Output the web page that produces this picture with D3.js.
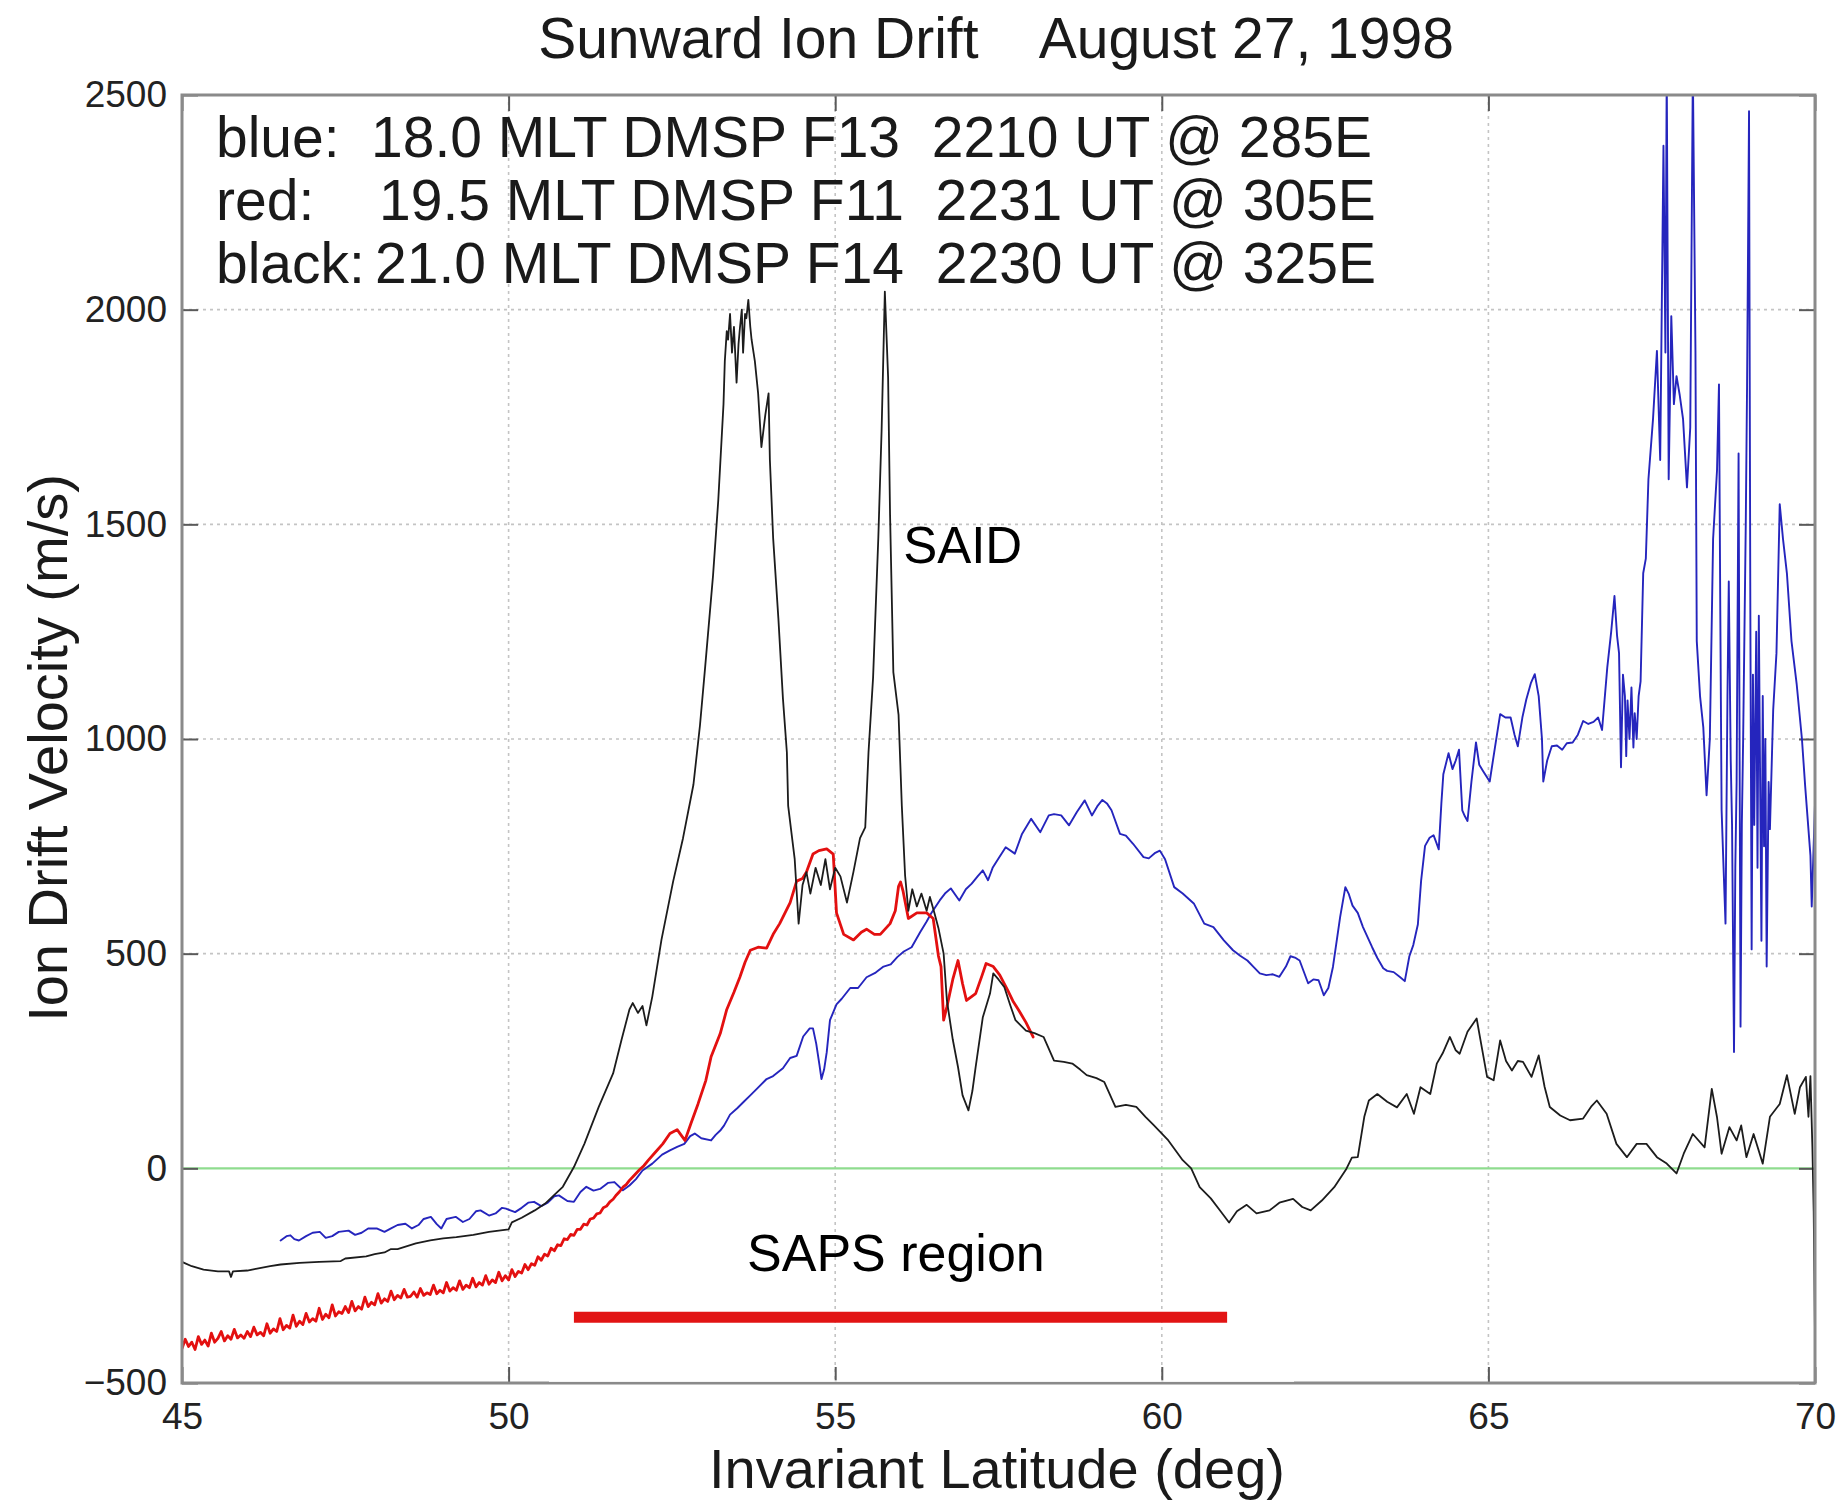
<!DOCTYPE html>
<html>
<head>
<meta charset="utf-8">
<script src="https://cdn.jsdelivr.net/npm/d3@7"></script>
<style>
  html, body { margin: 0; padding: 0; background: #fff; }
  svg { display: block; font-family: "Liberation Sans", Arial, Helvetica, sans-serif; }
</style>
</head>
<body>
<svg id="chart" width="1842" height="1503"></svg>
<script>
// ---- axis ticks and labels ----
const xTicks = [45, 50, 55, 60, 65, 70];
const yTicks = [-500, 0, 500, 1000, 1500, 2000, 2500];
const titleText = "Sunward Ion Drift    August 27, 1998";
const xLabel = "Invariant Latitude (deg)";
const yLabel = "Ion Drift Velocity (m/s)";
const legendLabels = ["blue:", "red:", "black:"];
const legendDetails = [
  "18.0 MLT DMSP F13  2210 UT @ 285E",
  "19.5 MLT DMSP F11  2231 UT @ 305E",
  "21.0 MLT DMSP F14  2230 UT @ 325E"
];
const saidLabel = "SAID";
const sapsLabel = "SAPS region";
const sapsRange = [51.0, 61.0];   // latitude span of the SAPS bar
const sapsLevel = -347;           // velocity at which the bar sits

// ---- DMSP F13 (blue): [invariant latitude, sunward drift m/s] ----
const f13Blue = [
  [46.51,-168],[46.6,-158],[46.66,-156],[46.72,-165],[46.79,-168],[46.9,-158],[47.0,-150],[47.11,-148],
  [47.2,-162],[47.3,-158],[47.4,-148],[47.55,-145],[47.65,-155],[47.75,-150],[47.85,-140],[47.98,-140],
  [48.1,-148],[48.2,-140],[48.3,-132],[48.42,-129],[48.52,-140],[48.62,-132],[48.7,-118],[48.81,-113],
  [48.9,-130],[48.97,-140],[49.05,-118],[49.19,-113],[49.3,-125],[49.4,-118],[49.5,-100],[49.57,-98],
  [49.7,-110],[49.8,-105],[49.9,-92],[49.96,-94],[50.1,-102],[50.2,-92],[50.3,-80],[50.39,-78],
  [50.5,-88],[50.6,-80],[50.7,-65],[50.77,-63],[50.9,-76],[51.0,-78],[51.1,-55],[51.19,-43],
  [51.3,-52],[51.4,-48],[51.52,-34],[51.62,-32],[51.75,-51],[51.85,-40],[51.95,-25],[52.05,-5],
  [52.2,11],[52.35,32],[52.47,42],[52.58,50],[52.69,57],[52.78,75],[52.85,81],[52.95,70],
  [53.1,65],[53.17,78],[53.24,88],[53.3,100],[53.39,125],[53.5,140],[53.6,155],[53.7,170],
  [53.8,185],[53.95,208],[54.05,215],[54.2,233],[54.31,257],[54.41,262],[54.51,307],[54.61,326],
  [54.66,326],[54.71,290],[54.76,240],[54.79,208],[54.83,230],[54.87,270],[54.92,345],[55.02,382],
  [55.1,395],[55.23,420],[55.35,420],[55.48,445],[55.62,456],[55.74,470],[55.85,475],[55.95,492],
  [56.05,505],[56.17,515],[56.3,550],[56.4,575],[56.47,594],[56.6,624],[56.68,640],[56.77,652],
  [56.9,624],[57.0,650],[57.09,663],[57.18,680],[57.26,694],[57.34,671],[57.41,700],[57.48,717],
  [57.61,748],[57.75,733],[57.86,779],[58.0,814],[58.14,783],[58.27,822],[58.35,825],[58.46,822],
  [58.58,799],[58.7,830],[58.82,857],[58.93,822],[59.02,845],[59.09,858],[59.16,850],[59.23,834],
  [59.36,779],[59.45,775],[59.56,756],[59.72,725],[59.8,722],[59.9,735],[59.97,740],[60.05,720],
  [60.19,655],[60.32,640],[60.49,617],[60.65,570],[60.79,562],[60.95,531],[61.09,508],[61.2,495],
  [61.31,484],[61.4,470],[61.5,454],[61.6,450],[61.7,452],[61.8,446],[61.9,470],[61.97,494],
  [62.05,490],[62.11,484],[62.24,431],[62.32,440],[62.4,438],[62.48,403],[62.55,420],[62.62,469],
  [62.73,585],[62.81,655],[62.86,640],[62.92,612],[63.0,595],[63.08,562],[63.22,515],[63.3,490],
  [63.39,466],[63.45,460],[63.55,457],[63.65,445],[63.72,436],[63.79,494],[63.85,520],[63.92,568],
  [63.97,670],[64.03,751],[64.1,770],[64.16,776],[64.2,760],[64.24,743],[64.28,850],[64.31,918],
  [64.39,967],[64.45,930],[64.5,950],[64.55,975],[64.6,834],[64.64,820],[64.68,809],[64.74,900],
  [64.81,992],[64.86,940],[64.92,925],[65.02,901],[65.1,980],[65.18,1058],[65.26,1050],[65.34,1050],
  [65.4,1010],[65.45,983],[65.52,1050],[65.58,1092],[65.65,1130],[65.71,1151],[65.77,1100],[65.82,1000],
  [65.84,901],[65.9,950],[65.97,983],[66.05,985],[66.13,975],[66.2,990],[66.29,992],[66.37,1010],
  [66.45,1042],[66.53,1035],[66.61,1040],[66.68,1050],[66.74,1021],[66.82,1167],[66.88,1250],[66.93,1333],
  [66.97,1240],[67.0,1200],[67.03,934],[67.06,1150],[67.09,1100],[67.11,960],[67.13,1090],[67.16,1000],
  [67.19,1120],[67.22,980],[67.24,1060],[67.27,1000],[67.3,1100],[67.33,1134],[67.37,1386],[67.41,1420],
  [67.45,1605],[67.52,1745],[67.58,1904],[67.63,1650],[67.68,2382],[67.71,1900],[67.73,2560],[67.76,1605],
  [67.8,1985],[67.84,1780],[67.88,1845],[67.93,1800],[67.98,1745],[68.04,1586],[68.09,1725],[68.13,2560],
  [68.17,1900],[68.19,1228],[68.24,1100],[68.29,1027],[68.34,869],[68.39,1000],[68.44,1466],[68.5,1626],
  [68.53,1826],[68.55,1300],[68.57,835],[68.6,700],[68.63,570],[68.66,1100],[68.68,1367],[68.71,950],
  [68.73,800],[68.76,271],[68.78,700],[68.8,900],[68.83,1665],[68.86,330],[68.88,800],[68.9,1000],
  [68.94,1500],[68.96,1823],[68.99,2462],[69.01,1300],[69.03,510],[69.05,1150],[69.07,800],[69.1,1250],
  [69.12,700],[69.14,1287],[69.16,900],[69.18,530],[69.2,1100],[69.22,750],[69.24,1000],[69.26,470],
  [69.29,900],[69.31,790],[69.36,1068],[69.41,1200],[69.46,1547],[69.51,1466],[69.57,1386],[69.64,1228],
  [69.72,1127],[69.8,1000],[69.85,889],[69.93,729],[69.95,610],[70.0,849]
];

// ---- DMSP F11 (red) ----
const f11Red = [
  [45.0,-420],[45.05,-398],[45.1,-415],[45.15,-405],[45.2,-422],[45.25,-392],[45.3,-410],[45.35,-400],
  [45.4,-414],[45.45,-384],[45.5,-405],[45.55,-396],[45.6,-380],[45.65,-402],[45.7,-390],[45.75,-398],
  [45.8,-375],[45.85,-395],[45.9,-388],[45.95,-396],[46.0,-380],[46.05,-392],[46.1,-370],[46.15,-388],
  [46.2,-382],[46.25,-390],[46.3,-362],[46.35,-384],[46.4,-374],[46.45,-380],[46.5,-350],[46.55,-376],
  [46.6,-366],[46.65,-372],[46.7,-342],[46.75,-368],[46.8,-356],[46.85,-364],[46.9,-338],[46.95,-358],
  [47.0,-350],[47.05,-356],[47.1,-326],[47.15,-352],[47.2,-340],[47.25,-348],[47.3,-318],[47.35,-344],
  [47.4,-334],[47.45,-338],[47.5,-322],[47.55,-336],[47.6,-310],[47.65,-332],[47.7,-322],[47.75,-328],
  [47.8,-300],[47.85,-322],[47.9,-312],[47.95,-318],[48.0,-292],[48.05,-314],[48.1,-304],[48.15,-310],
  [48.2,-286],[48.25,-306],[48.3,-296],[48.35,-302],[48.4,-282],[48.45,-300],[48.5,-298],[48.55,-288],
  [48.6,-300],[48.65,-280],[48.7,-296],[48.75,-290],[48.8,-294],[48.85,-272],[48.9,-292],[48.95,-284],
  [49.0,-290],[49.05,-266],[49.1,-286],[49.15,-278],[49.2,-284],[49.25,-262],[49.3,-282],[49.35,-272],
  [49.4,-278],[49.45,-256],[49.5,-276],[49.55,-266],[49.6,-272],[49.65,-250],[49.7,-270],[49.75,-260],
  [49.8,-266],[49.85,-242],[49.9,-262],[49.95,-250],[50.0,-260],[50.05,-236],[50.1,-252],[50.15,-240],
  [50.2,-244],[50.25,-224],[50.3,-236],[50.35,-222],[50.4,-226],[50.45,-206],[50.5,-214],[50.55,-200],
  [50.6,-204],[50.65,-186],[50.7,-192],[50.75,-178],[50.8,-180],[50.85,-164],[50.9,-166],[50.95,-154],
  [51.0,-156],[51.05,-142],[51.1,-142],[51.15,-130],[51.2,-132],[51.25,-118],[51.3,-116],[51.35,-106],
  [51.4,-104],[51.45,-92],[51.5,-88],[51.55,-78],[51.6,-72],[51.65,-62],[51.7,-54],[51.75,-44],
  [51.8,-38],[51.85,-28],[51.9,-20],[51.95,-12],[52.0,-4],[52.07,6],[52.14,19],[52.25,38],
  [52.36,57],[52.47,81],[52.58,90],[52.7,65],[52.79,104],[52.9,150],[53.02,205],
  [53.1,260],[53.24,314],[53.34,370],[53.45,410],[53.54,445],[53.62,480],[53.7,508],[53.82,515],[53.95,513],[54.05,545],
  [54.15,570],[54.31,619],[54.41,669],[54.5,675],[54.56,690],[54.66,732],[54.75,740],[54.87,744],[54.97,732],[55.02,595],
  [55.13,545],[55.28,532],[55.4,550],[55.48,557],[55.6,545],[55.69,545],[55.84,570],[55.92,600],[55.97,657],[56.0,667],
  [56.04,645],[56.12,582],[56.25,595],[56.4,595],[56.5,582],[56.58,495],[56.62,470],[56.66,345],[56.71,376],[56.8,440],
  [56.88,484],[56.95,430],[57.01,391],[57.15,407],[57.25,450],[57.31,477],[57.42,470],[57.52,450],[57.64,415],[57.72,390],
  [57.81,368],[57.92,340],[58.03,306]
];

// ---- DMSP F14 (black) ----
const f14Black = [
  [45.0,-218],[45.15,-228],[45.33,-236],[45.55,-240],[45.72,-240],[45.75,-253],[45.78,-240],[46.0,-238],
  [46.13,-234],[46.35,-228],[46.51,-224],[46.8,-220],[47.1,-218],[47.43,-216],[47.5,-210],[47.82,-205],
  [47.95,-200],[48.1,-196],[48.2,-188],[48.3,-188],[48.58,-175],[48.8,-168],[49.0,-163],[49.2,-160],
  [49.46,-155],[49.7,-148],[50.0,-142],[50.05,-126],[50.2,-115],[50.4,-98],[50.56,-82],[50.7,-62],
  [50.83,-43],[51.0,3],[51.16,57],[51.38,143],[51.6,221],[51.73,300],[51.85,370],[51.9,385],
  [51.98,362],[52.05,378],[52.11,333],[52.2,400],[52.34,532],[52.52,669],[52.67,769],[52.83,894],
  [52.93,1032],[53.01,1169],[53.13,1381],[53.21,1556],[53.29,1780],[53.31,1880],[53.34,1950],[53.36,1930],
  [53.39,1990],[53.42,1900],[53.45,1960],[53.49,1830],[53.52,1920],[53.54,1955],[53.57,2000],[53.59,1900],
  [53.62,1990],[53.64,1980],[53.67,2023],[53.7,1960],[53.72,1930],[53.75,1900],[53.77,1880],[53.82,1805],
  [53.87,1680],[53.93,1755],[53.98,1805],[54.0,1650],[54.05,1468],[54.13,1281],[54.2,1094],[54.26,969],
  [54.28,844],[54.33,782],[54.38,720],[54.44,570],[54.5,660],[54.56,690],[54.62,640],[54.7,700],
  [54.78,660],[54.85,720],[54.92,650],[55.0,700],[55.08,680],[55.18,619],[55.28,691],[55.38,769],
  [55.46,794],[55.51,969],[55.58,1143],[55.66,1468],[55.71,1717],[55.76,2042],[55.81,1842],[55.84,1521],
  [55.89,1156],[55.97,1056],[56.02,844],[56.07,682],[56.12,600],[56.18,650],[56.25,610],[56.32,640],
  [56.4,600],[56.45,632],[56.52,594],[56.58,560],[56.66,500],[56.71,391],[56.8,300],[56.88,236],
  [56.95,170],[57.04,135],[57.1,180],[57.15,236],[57.26,352],[57.37,407],[57.42,454],[57.5,440],
  [57.59,422],[57.68,380],[57.76,345],[57.92,321],[58.05,315],[58.19,306],[58.35,251],[58.5,248],
  [58.63,244],[58.75,230],[58.85,217],[59.0,210],[59.12,201],[59.29,143],[59.45,148],[59.61,143],
  [59.75,120],[59.88,100],[60.1,65],[60.32,19],[60.45,0],[60.58,-44],[60.75,-70],[60.9,-100],
  [61.03,-126],[61.15,-100],[61.3,-85],[61.45,-105],[61.65,-98],[61.8,-80],[62.01,-71],[62.15,-90],
  [62.28,-98],[62.45,-75],[62.64,-44],[62.82,-3],[62.91,25],[63.0,26],[63.1,120],[63.17,158],
  [63.3,173],[63.45,155],[63.6,142],[63.75,173],[63.86,127],[63.96,189],[64.11,173],[64.21,244],
  [64.3,268],[64.41,306],[64.5,275],[64.56,267],[64.68,318],[64.82,349],[64.87,306],[64.98,213],
  [65.08,205],[65.18,298],[65.27,250],[65.36,228],[65.45,250],[65.53,248],[65.66,213],[65.77,263],
  [65.86,190],[65.94,143],[66.1,123],[66.25,112],[66.45,116],[66.58,145],[66.66,158],[66.81,127],
  [66.96,57],[67.12,26],[67.27,57],[67.42,57],[67.58,26],[67.73,11],[67.88,-12],[67.99,34],
  [68.13,80],[68.31,49],[68.42,185],[68.5,119],[68.57,34],[68.69,96],[68.8,65],[68.87,100],
  [68.95,26],[69.06,80],[69.2,11],[69.31,120],[69.46,150],[69.57,217],[69.69,127],[69.77,189],
  [69.86,213],[69.9,120],[69.93,215],[69.96,50],[69.98,-100],[70.0,-390]
];

// ---- layout ----
const plot = { left: 182, right: 1815, top: 95, bottom: 1383 };
const svg = d3.select("#chart");
const font = '"Liberation Sans", Arial, Helvetica, sans-serif';

const x = d3.scaleLinear().domain([45, 70]).range([plot.left, plot.right]);
const y = d3.scaleLinear().domain([-500, 2500]).range([plot.bottom, plot.top]);
const fmt = d3.format("d");

svg.append("rect").attr("width", 1842).attr("height", 1503).attr("fill", "#fff");

// dotted grid
const grid = svg.append("g").attr("stroke", "#c4c4c4").attr("stroke-width", 1.6).attr("stroke-dasharray", "3,4");
grid.selectAll("line.v").data(xTicks.slice(1, -1)).join("line").attr("class", "v")
  .attr("x1", d => x(d)).attr("x2", d => x(d))
  .attr("y1", plot.top).attr("y2", plot.bottom);
grid.selectAll("line.h").data(yTicks.filter(d => d > 0 && d < 2500)).join("line").attr("class", "h")
  .attr("y1", d => y(d)).attr("y2", d => y(d))
  .attr("x1", plot.left).attr("x2", plot.right);

// zero reference line
svg.append("line")
  .attr("x1", plot.left).attr("x2", plot.right)
  .attr("y1", y(0)).attr("y2", y(0))
  .attr("stroke", "#8fdc8f").attr("stroke-width", 2.2);

// axes with inward ticks on all four sides
function styleAxis(g, labelled) {
  g.select(".domain").remove();
  g.selectAll(".tick line").attr("stroke", "#5a5a5a").attr("stroke-width", 2);
  if (labelled) {
    g.attr("font-size", 37).attr("font-family", font);
    g.selectAll(".tick text").attr("fill", "#222");
  }
}
svg.append("g").attr("transform", `translate(0,${plot.bottom})`)
  .call(d3.axisBottom(x).tickValues(xTicks).tickFormat(fmt).tickSizeInner(-16).tickSizeOuter(0).tickPadding(20))
  .call(g => styleAxis(g, true));
svg.append("g").attr("transform", `translate(0,${plot.top})`)
  .call(d3.axisTop(x).tickValues(xTicks).tickFormat("").tickSizeInner(-16).tickSizeOuter(0))
  .call(g => styleAxis(g, false));
svg.append("g").attr("transform", `translate(${plot.left},0)`)
  .call(d3.axisLeft(y).tickValues(yTicks).tickFormat(fmt).tickSizeInner(-16).tickSizeOuter(0).tickPadding(15))
  .call(g => styleAxis(g, true));
svg.append("g").attr("transform", `translate(${plot.right},0)`)
  .call(d3.axisRight(y).tickValues(yTicks).tickFormat("").tickSizeInner(-16).tickSizeOuter(0))
  .call(g => styleAxis(g, false));

// data series, clipped to the axes box
svg.append("clipPath").attr("id", "plot-clip")
  .append("rect").attr("x", plot.left).attr("y", plot.top)
  .attr("width", plot.right - plot.left).attr("height", plot.bottom - plot.top);

const line = d3.line().x(d => x(d[0])).y(d => y(d[1]));
const series = svg.append("g").attr("clip-path", "url(#plot-clip)")
  .attr("fill", "none").attr("stroke-linejoin", "round").attr("stroke-linecap", "round");

series.append("path").datum(f13Blue).attr("d", line)
  .attr("stroke", "#2525bd").attr("stroke-width", 1.9);
series.append("path").datum(f11Red).attr("d", line)
  .attr("stroke", "#e31010").attr("stroke-width", 2.8);
series.append("path").datum(f14Black).attr("d", line)
  .attr("stroke", "#1c1c1c").attr("stroke-width", 1.8);

// axes box
svg.append("rect")
  .attr("x", plot.left).attr("y", plot.top)
  .attr("width", plot.right - plot.left).attr("height", plot.bottom - plot.top)
  .attr("fill", "none").attr("stroke", "#8a8a8a").attr("stroke-width", 3);

// annotation backing that trims the lower axis edge
svg.append("rect")
  .attr("x", 549).attr("y", plot.bottom - 2.6).attr("width", 745).attr("height", 1.4)
  .attr("fill", "#fff");

// SAPS bar
svg.append("line")
  .attr("x1", x(sapsRange[0])).attr("x2", x(sapsRange[1]))
  .attr("y1", y(sapsLevel)).attr("y2", y(sapsLevel))
  .attr("stroke", "#e21414").attr("stroke-width", 11);

// texts
svg.append("text")
  .attr("x", 996).attr("y", 58)
  .attr("text-anchor", "middle").attr("font-size", 57).attr("fill", "#1a1a1a")
  .attr("xml:space", "preserve").style("white-space", "pre")
  .text(titleText);

svg.append("text")
  .attr("x", 997).attr("y", 1488)
  .attr("text-anchor", "middle").attr("font-size", 56).attr("fill", "#1a1a1a")
  .text(xLabel);

svg.append("text")
  .attr("transform", "translate(67,748) rotate(-90)")
  .attr("text-anchor", "middle").attr("font-size", 56).attr("fill", "#1a1a1a")
  .text(yLabel);

const legendX = 216;
const detailX = [371, 379, 375];
const legendY = [157, 220, 283];
const legend = svg.append("g").attr("font-size", 57).attr("fill", "#1a1a1a");
legendLabels.forEach((lab, i) => {
  legend.append("text").attr("x", legendX).attr("y", legendY[i]).text(lab);
  legend.append("text").attr("x", detailX[i]).attr("y", legendY[i])
    .attr("xml:space", "preserve").style("white-space", "pre")
    .text(legendDetails[i]);
});

svg.append("text")
  .attr("x", x(56.04)).attr("y", y(1409))
  .attr("font-size", 51).attr("fill", "#000")
  .text(saidLabel);

svg.append("text")
  .attr("x", x(53.65)).attr("y", y(-240))
  .attr("font-size", 52).attr("fill", "#000")
  .text(sapsLabel);
</script>
</body>
</html>
